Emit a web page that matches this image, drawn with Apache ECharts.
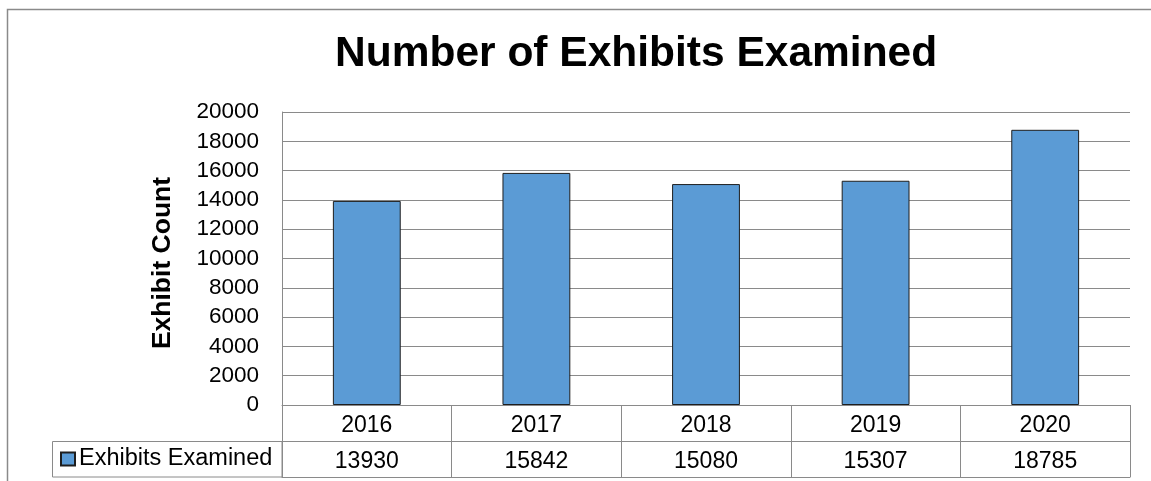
<!DOCTYPE html>
<html>
<head>
<meta charset="utf-8">
<script src="https://cdn.jsdelivr.net/npm/echarts@6/dist/echarts.min.js"></script>
<style>
  html, body { margin: 0; padding: 0; background: #fff; }
  #main { width: 1151px; height: 481px; }
</style>
</head>
<body>
<div id="main"></div>
<script>
// data
const years = ['2016', '2017', '2018', '2019', '2020']
const examined = [13930, 15842, 15080, 15307, 18785]
const yTicks = { min: 0, max: 20000, interval: 2000 }

const FONT = '"Liberation Sans", Arial, sans-serif'
const LINE = '#8a8a8a'

const chart = echarts.init(document.getElementById('main'))

// the data table under the plot: one row of years, one row of values
const rowH = 36
const tableAxis = (data, offset, showLabel) => ({
  type: 'category',
  data: data,
  position: 'bottom',
  offset: offset,
  axisLine: { show: true, lineStyle: { color: LINE, width: 1 } },
  axisTick: { show: showLabel, interval: 0, length: rowH, lineStyle: { color: LINE } },
  axisLabel: {
    show: showLabel,
    interval: 0,
    margin: 9,
    color: '#000',
    fontFamily: FONT,
    fontSize: 23,
  },
  splitLine: { show: false },
})

const option = {
  animation: false,
  backgroundColor: '#fff',
  title: {
    text: 'Number of Exhibits Examined',
    left: 335,
    top: 33,
    padding: 0,
    textStyle: {
      fontFamily: FONT,
      fontSize: 42.5,
      fontWeight: 'bold',
      color: '#000',
    }
  },
  legend: {
    left: 60,
    top: 447,
    padding: 0,
    icon: 'rect',
    itemWidth: 14,
    itemHeight: 13,
    itemGap: 0,
    selectedMode: false,
    textStyle: { fontFamily: FONT, fontSize: 23.5, color: '#000', padding: [0, 0, 0, -1] },
    data: ['Exhibits Examined'],
  },
  grid: {
    left: 282,
    right: 21,
    top: 112,
    bottom: 76,
  },
  xAxis: [
    tableAxis(years, 0, true),
    tableAxis(examined.map(String), rowH, true),
    tableAxis(years, rowH * 2, false),
  ],
  yAxis: {
    type: 'value',
    min: yTicks.min,
    max: yTicks.max,
    interval: yTicks.interval,
    name: 'Exhibit Count',
    nameLocation: 'middle',
    nameGap: 106,
    nameTextStyle: {
      fontFamily: FONT,
      fontSize: 26.5,
      fontWeight: 'bold',
      color: '#000',
      padding: [0, 9, 0, 0],
    },
    axisLine: { show: true, lineStyle: { color: LINE, width: 1 } },
    axisTick: { show: false },
    axisLabel: {
      margin: 23,
      color: '#000',
      fontFamily: FONT,
      fontSize: 22.5,
      formatter: v => String(v),
    },
    splitLine: { lineStyle: { color: LINE, width: 1 } },
  },
  graphic: [
    { // outer chart frame
      type: 'rect',
      shape: { x: 7.5, y: 9.5, width: 1200, height: 600 },
      style: { fill: 'none', stroke: LINE, lineWidth: 1.5 },
      silent: true,
    },
    { // legend cell of the data table
      type: 'rect',
      shape: { x: 52.5, y: 441.5, width: 229.5, height: 35.5 },
      style: { fill: 'none', stroke: LINE, lineWidth: 1 },
      silent: true,
    },
  ],
  series: [
    {
      name: 'Exhibits Examined',
      type: 'bar',
      xAxisIndex: 0,
      data: examined,
      barCategoryGap: '60%',
      itemStyle: {
        color: '#5B9BD5',
        borderColor: '#1e1e1e',
        borderWidth: 1,
      },
    }
  ]
}

chart.setOption(option)
</script>
</body>
</html>
